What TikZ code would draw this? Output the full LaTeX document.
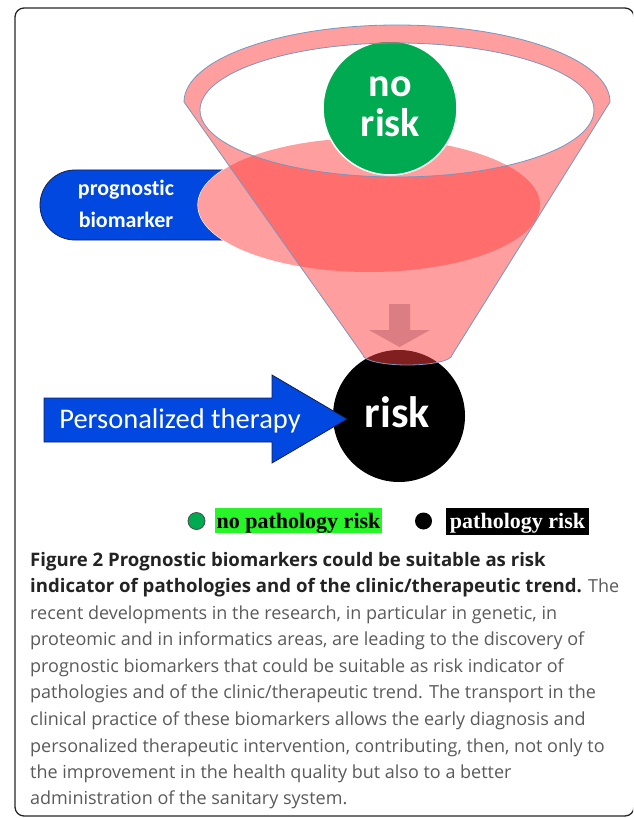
\documentclass[tikz,border=0pt]{standalone}
\usepackage{fontspec}
\setmainfont{Open Sans}
\newfontfamily\calfont[Ligatures=NoCommon]{Carlito}
\newfontfamily\tmfont{Liberation Serif}
\newfontfamily\capfont{Open Sans}
\definecolor{pinkc}{RGB}{255,62,62}
\definecolor{boxblue}{RGB}{0,72,224}
\definecolor{navy}{RGB}{20,30,80}
\definecolor{rimline}{RGB}{120,150,190}
\definecolor{greenc}{RGB}{0,170,80}
\definecolor{legendgreen}{RGB}{40,245,40}
\definecolor{captext}{RGB}{90,90,90}
\definecolor{capbold}{RGB}{35,35,35}
\definecolor{arrowc}{RGB}{190,100,110}
\begin{document}
\begin{tikzpicture}[x=1pt,y=-1pt,
  pinkfill/.style={fill=pinkc, fill opacity=0.5},
  rim/.style={draw=rimline, line width=0.8},
  bluebox/.style={fill=boxblue, draw=navy, line width=0.8},
  wlabel/.style={text=white, inner sep=0, anchor=base},
  legtext/.style={inner sep=0, anchor=base, font=\tmfont\bfseries\fontsize{22}{22}\selectfont},
  capline/.style={inner sep=0, anchor=base west, text=captext, font=\capfont\fontsize{18}{18}\selectfont},
  bold/.style={text=capbold, font=\capfont\bfseries\fontsize{18.6}{18.6}\selectfont}]
\useasboundingbox (0,0) rectangle (633,818);
\clip (0,0) rectangle (633,818);
% frame
\draw[line width=1.3, draw=black!85, rounded corners=9] (15,8) rectangle (634,816);
% prognostic biomarker box
\draw[bluebox] (230,170) -- (75,170) arc[start angle=270, end angle=90, radius=35] -- (230,240) -- cycle;
\fill[white] (369,205) ellipse[x radius=171, y radius=67];
\draw[white, line width=1.2] (369,205) ellipse[x radius=171, y radius=67];
% black circle
\fill[black] (399,416) circle[radius=66];
% red liquid
\fill[pinkfill] (369,205) ellipse[x radius=171, y radius=67];
% green circle
\draw[fill=greenc, draw=white, line width=1.5] (390,108) circle[radius=67];
% funnel
\fill[pinkfill, even odd rule] (184,102) arc[start angle=180, end angle=360, x radius=213, y radius=77]
  -- (452,355) arc[start angle=0, end angle=180, x radius=44.5, y radius=10] -- cycle
  (397,110) ellipse[x radius=197, y radius=67];
\draw[rim] (184,102) arc[start angle=180, end angle=360, x radius=213, y radius=77]
  -- (452,355) arc[start angle=0, end angle=180, x radius=44.5, y radius=10] -- cycle;
\draw[rim] (397,110) ellipse[x radius=197, y radius=67];
% down arrow
\fill[arrowc, opacity=0.55] (389,304) -- (410,304) -- (410,330) -- (430,330) -- (399.5,347) -- (369,330) -- (389,330) -- cycle;
% personalized therapy arrow
\draw[bluebox] (44,398) -- (272,398) -- (272,375) -- (347,419) -- (272,463) -- (272,442) -- (44,442) -- cycle;
% texts
\node[wlabel, font=\calfont\bfseries\fontsize{22}{22}\selectfont] (pb1) at (126,196) {prognostic};
\node[wlabel, font=\calfont\bfseries\fontsize{22}{22}\selectfont] (pb2) at (126,228) {biomarker};
\node[wlabel, font=\calfont\bfseries\fontsize{40}{40}\selectfont] (nr1) at (390,97) {no};
\node[wlabel, font=\calfont\bfseries\fontsize{40}{40}\selectfont] (nr2) at (390.5,137) {risk};
\node[wlabel, font=\calfont\bfseries\fontsize{44}{44}\selectfont] (rk) at (397.5,427) {risk};
\node[wlabel, font=\calfont\fontsize{28.5}{28.5}\selectfont] (pt) at (180,428) {Personalized therapy};
% legend
\draw[fill=greenc, draw=black!70, line width=0.8] (196.5,521) circle[radius=8.5];
\fill[legendgreen] (215,508) rectangle (382,533);
\node[legtext] (npr) at (298.5,528) {no pathology risk};
\fill[black] (423.5,521) circle[radius=8.5];
\fill[black] (446,508) rectangle (589,535);
\node[legtext, text=white] (pr) at (517.5,528) {pathology risk};
% caption
\node[capline, bold] (c1) at (30,566) {Figure 2 Prognostic biomarkers could be suitable as risk};
\node[capline] (c2) at (30,592) {{\bfseries\fontsize{18.6}{18.6}\selectfont\color{capbold}indicator of pathologies and of the clinic/therapeutic trend.} The};
\node[capline] (c3) at (30,619) {recent developments in the research, in particular in genetic, in};
\node[capline] (c4) at (30,645) {proteomic and in informatics areas, are leading to the discovery of};
\node[capline] (c5) at (30,672) {prognostic biomarkers that could be suitable as risk indicator of};
\node[capline] (c6) at (30,698) {pathologies and of the clinic/therapeutic trend. The transport in the};
\node[capline] (c7) at (30,725) {clinical practice of these biomarkers allows the early diagnosis and};
\node[capline] (c8) at (30,752) {personalized therapeutic intervention, contributing, then, not only to};
\node[capline] (c9) at (30,778) {the improvement in the health quality but also to a better};
\node[capline] (c10) at (30,804) {administration of the sanitary system.};
\end{tikzpicture}
\end{document}
